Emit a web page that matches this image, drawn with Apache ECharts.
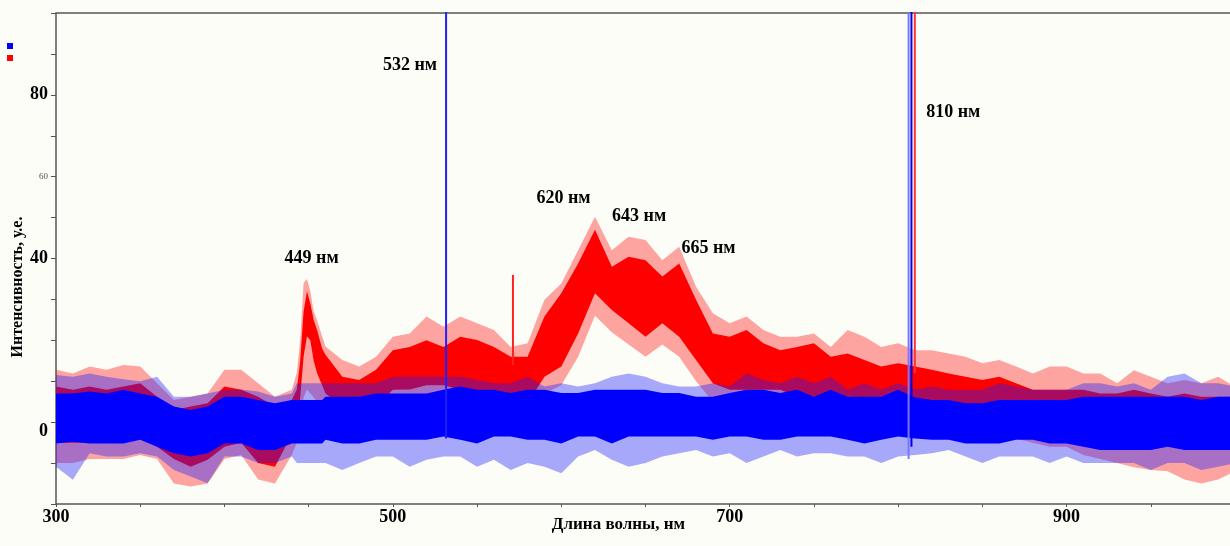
<!DOCTYPE html>
<html>
<head>
<meta charset="utf-8">
<script src="https://cdn.jsdelivr.net/npm/echarts@6.0.0/dist/echarts.min.js"></script>
<style>
  html, body { margin: 0; padding: 0; background: #fdfdf7; }
</style>
</head>
<body>
<div id="chart" style="width:1230px;height:546px"></div>
<script>
// длины волн, нм (шаг 10 нм, гуще около пика 449)
var wl = [300,310,320,330,340,350,360,370,380,390,400,410,420,430,440,443,445,447,449,451,453,455,458,
  460,470,480,490,500,510,520,530,540,550,560,570,580,590,600,610,620,630,640,650,660,670,680,690,700,
  710,720,730,740,750,760,770,780,790,800,810,820,830,840,850,860,870,880,890,900,910,920,930,940,950,
  960,970,980,990,1000];

// красный спектр: огибающая выбросов (Out) и плотная полоса
var redOutHi = [12.8,11.9,13.6,12.8,14,13.6,9.5,5.4,6.2,7,12.8,12.8,9.5,6.2,7.9,12,20,34,35,32,27,25,21,
  18.5,15.2,13.6,16,20.9,21.7,25.8,23.3,25.8,24.2,22.5,18.4,19.3,29.9,33.9,42,50.2,42,45.3,44.5,39.6,42.9,33.1,26.6,24.2,
  25.8,22.5,20.9,20.9,21.7,18.4,22.5,20.9,18.4,19.3,17.6,17.6,16.8,16,14.4,15.2,13.6,11.9,13.6,13.6,11.9,11.9,9.5,12.7,11.1,
  9.5,10.3,9.5,11.1,8.7];
var redHi = [8.7,7.9,8.7,7.9,8.7,9.5,6.2,3,3.8,4.6,8.7,7.9,6.2,3.8,5.4,8,15,27,32,29,25,22.5,18,
  16.5,11.1,10.3,12.8,17.6,18.4,20,18.4,20.9,20.1,18.4,16,16,25.8,31.5,38.8,47,38,40.4,39.6,35.6,38.8,29.9,21.7,20.9,
  22.5,19.3,17.6,18.4,19.3,16,16.8,15.2,13.6,14.4,13.6,12.8,11.9,11.1,10.3,11.1,9.5,7.9,7.9,7.9,7.9,7,7,7.9,7,
  6.2,7,6.2,6.2,6.2];
var redLo = [-5,-5,-5,-5,-5,-4,-6,-9,-10.9,-9.2,-6,-5,-10,-10.9,-3,0,6,16,21,20,15,12,9,
  7,3.8,3,4,7.9,8,9,9,7.9,7,6.2,5.4,4.6,11.1,13.6,21.7,31.5,27.4,24.2,20.9,24.2,20.9,15.2,9.5,7.9,
  7.9,7.9,7.9,6.2,6.2,5.4,6.2,6,6,7,5,4.6,3.8,3.8,3.8,3,3,2.2,1.4,1,0,-1,-2,-3,-4,
  -4,-5,-5,-6,-6];
var redOutLo = [-10,-10,-9,-9,-9,-8,-9,-15,-15.7,-15,-9,-8,-14,-15,-8,-5,0,6,8,7,6,5,3,
  2,-3,-3,-2,1,2,3,3,4.6,3,2,2,1,7,9,16,26,22,19,16,19,16,10,5,4,
  4,4,4,3,3,2,2,2,2,2,0,0,-1,-2,-3,-3,-4,-5,-6,-6,-8,-9,-10,-11,-11.7,
  -12,-14,-15,-14,-12];

// синий спектр
var blueOutHi = [11.5,11.1,11.9,11.1,10.5,10,11.1,6.2,6.2,7,7.9,8,7.5,6.2,7,9.5,9.5,9.5,9.5,9.5,9.5,9.5,9.5,
  9.5,9.5,9.5,9.5,11.1,11.1,11.1,11.1,11.1,10.3,9.5,9.5,11.1,8.7,9.5,8.7,9.5,11.1,11.9,11.1,9.5,8.7,8.7,9.5,8.7,
  11.9,10.3,9.5,11.1,9.5,11.1,7.9,9.5,7.9,9.5,8,8.7,7.9,7.9,7.9,9.5,8.7,7.9,7.9,7.9,9.5,9.5,8.7,9.5,7.9,
  11.1,11.9,9.5,9.5,8.7];
var blueHi = [7,7,7.5,7,7.9,7,6.2,3.8,3,3.8,6.2,6.2,5.4,4.6,5.4,5.4,5.4,5.4,5.4,5.4,5.4,5.4,5.4,
  6.2,6.2,6.2,7,7,7,7,7.9,8.7,7.9,7.9,7.1,7.9,7.9,7.1,7.1,7.9,7.9,7.9,7.9,7.1,7.1,6.2,6.2,7.1,
  7.9,7.9,7.1,7.9,6.2,7.9,6.2,6.2,6.2,7.9,6,5.4,5.4,4.6,4.6,5.4,5.4,5.4,5.4,5.4,6.2,6.2,6.2,6.2,6.2,
  6.2,6.2,5.4,6.2,6.2];
var blueLo = [-5.2,-4.8,-5.2,-5.2,-5.2,-4.3,-6,-7.6,-8.4,-7.6,-5.2,-5.2,-6.8,-6.8,-5.2,-5.2,-5.2,-5.2,-5.2,-5.2,-5.2,-5.2,-5.2,
  -4.3,-5.2,-5.2,-4.3,-4.3,-4.3,-4.3,-3.5,-4.3,-5.2,-3.5,-3.5,-4.3,-4.3,-5.2,-3.5,-3.5,-5.2,-3.5,-3.5,-3.5,-3.5,-3.5,-4.3,-3.5,
  -3.5,-4.3,-4.3,-3.5,-3.5,-3.5,-4.3,-5.2,-4.3,-3.5,-4,-4.3,-4.3,-5.2,-5.2,-5.2,-4.3,-4.3,-5.2,-5.2,-6,-6.8,-6.8,-6.8,-6.8,
  -6,-6.8,-6.8,-6.8,-6.8];
var blueOutLo = [-10.9,-14.1,-7.6,-8.4,-8.4,-7.6,-8.4,-11.7,-13.3,-14.9,-8.4,-8.4,-10,-10,-8.4,-10,-10,-10,-10,-10,-10,-10,-10,
  -10,-11.7,-10,-8.4,-8.4,-10.9,-9.2,-8.4,-8.4,-10.9,-9.2,-11.7,-10,-10.9,-12.5,-8.4,-6.8,-9.2,-10.9,-10,-8.4,-7.6,-6.8,-8.4,-7.6,
  -10,-8.4,-6.8,-8.4,-7.6,-7.6,-8.4,-8.4,-10,-8.4,-8,-7.6,-6.8,-8.4,-10,-8.4,-8.4,-8.4,-10,-8.4,-10,-10,-10,-10,-11.7,
  -10,-10,-11.7,-10.9,-10];

// узкие линии: [нм, низ, верх]
var blueLines = [[531.6, -4, 115], [806.2, -9, 115], [807.9, -6, 115]];
var redLines = [[809.9, 12, 115], [571.3, 14, 36]];

// подписи пиков: [нм, у.е., текст]
var peakLabels = [
  [510.2, 87.3, '532 нм'],
  [832.7, 75.6, '810 нм'],
  [451.8, 40.1, '449 нм'],
  [601.3, 54.7, '620 нм'],
  [646.2, 50.4, '643 нм'],
  [687.4, 42.5, '665 нм']
];

var serif = '"Times New Roman", "Liberation Serif", serif';

// полоса между lo и hi, одним многоугольником
function band(name, lo, hi, color) {
  return {
    name: name, type: 'custom', silent: true, clip: true,
    itemStyle: { color: color },
    encode: { x: 0, y: [1, 2] },
    data: wl.map(function (x, i) { return [x, lo[i], hi[i]]; }),
    renderItem: function (params, api) {
      if (params.dataIndex !== 0) return null;
      var top = [], bot = [];
      for (var i = 0; i < wl.length; i++) {
        top.push(api.coord([wl[i], hi[i]]));
        bot.unshift(api.coord([wl[i], lo[i]]));
      }
      return {
        type: 'polygon',
        shape: { points: top.concat(bot) },
        style: { fill: color }
      };
    }
  };
}

function spikes(list, colors, width) {
  return list.map(function (s, k) {
    return {
      name: 'line_' + k, type: 'line', symbol: 'none', silent: true,
      lineStyle: { color: colors[k], width: width },
      data: [[s[0], s[1]], [s[0], s[2]]]
    };
  });
}

var series = [
  band('red_out', redOutLo, redOutHi, 'rgba(255,30,30,0.4)'),
  band('red', redLo, redHi, '#ff0000'),
  band('blue_out', blueOutLo, blueOutHi, 'rgba(30,30,255,0.38)'),
  band('blue', blueLo, blueHi, '#0000ff')
].concat(spikes(redLines, ['#ff3030', '#ff2020'], 2))
 .concat(spikes(blueLines, ['#2020ff', '#7777ff', '#0000ee'], 2));

series.push({
  name: 'labels', type: 'scatter', symbolSize: 1, silent: true,
  itemStyle: { color: 'rgba(0,0,0,0)' },
  label: {
    show: true, position: 'inside', color: '#000', opacity: 1,
    textBorderWidth: 0, textShadowBlur: 0,
    fontFamily: serif, fontWeight: 'bold', fontSize: 18,
    formatter: function (p) { return p.value[2]; }
  },
  data: peakLabels
});

var option = {
  backgroundColor: '#fdfdf7',
  animation: false,
  grid: {
    left: 56, top: 13, width: 1179, height: 491,
    outerBoundsMode: 'none',
    show: true, borderColor: '#555', borderWidth: 1.5, backgroundColor: 'transparent'
  },
  legend: {
    data: ['blue', 'red'],
    orient: 'vertical', left: 7, top: 43, padding: 0,
    itemWidth: 6, itemHeight: 6, itemGap: 6,
    icon: 'rect', selectedMode: false,
    formatter: function () { return ''; }
  },
  xAxis: {
    type: 'value', min: 300, max: 1000, interval: 50,
    name: 'Длина волны, нм', nameLocation: 'middle', nameGap: 12, nameMoveOverlap: false,
    nameTextStyle: { fontFamily: serif, fontWeight: 'bold', fontSize: 17, color: '#000', padding: [0, 54, 0, 0] },
    axisLine: { show: false, onZero: false },
    axisTick: { show: true, length: 3, lineStyle: { color: '#555' } },
    splitLine: { show: false },
    axisLabel: {
      margin: 4, fontFamily: serif, fontWeight: 'bold', fontSize: 18, color: '#000',
      formatter: function (v) { return (v - 300) % 200 === 0 ? String(v) : ''; }
    }
  },
  yAxis: {
    type: 'value', min: -20, max: 100, interval: 10,
    axisLine: { show: false, onZero: false },
    axisTick: { show: true, length: 5, lineStyle: { color: '#555' } },
    splitLine: { show: false },
    axisLabel: {
      margin: 8,
      formatter: function (v) {
        if (v === 80 || v === 40) return '{b|' + v + '}';
        if (v === 0) return '{z|0}';
        if (v === 60) return '{s|60}';
        return '';
      },
      rich: {
        b: { fontFamily: serif, fontWeight: 'bold', fontSize: 18, color: '#000' },
        z: { fontFamily: serif, fontWeight: 'bold', fontSize: 18, color: '#000', padding: [18, 0, 0, 0] },
        s: { fontFamily: serif, fontSize: 9, color: '#555' }
      }
    }
  },
  graphic: [{
    type: 'text', x: 18, y: 287, rotation: Math.PI / 2,
    style: {
      text: 'Интенсивность, у.е.', fill: '#000',
      font: 'bold 16px ' + serif, align: 'center', verticalAlign: 'middle'
    }
  }],
  series: series
};

var chart = echarts.init(document.getElementById('chart'));
chart.setOption(option);
</script>
</body>
</html>
